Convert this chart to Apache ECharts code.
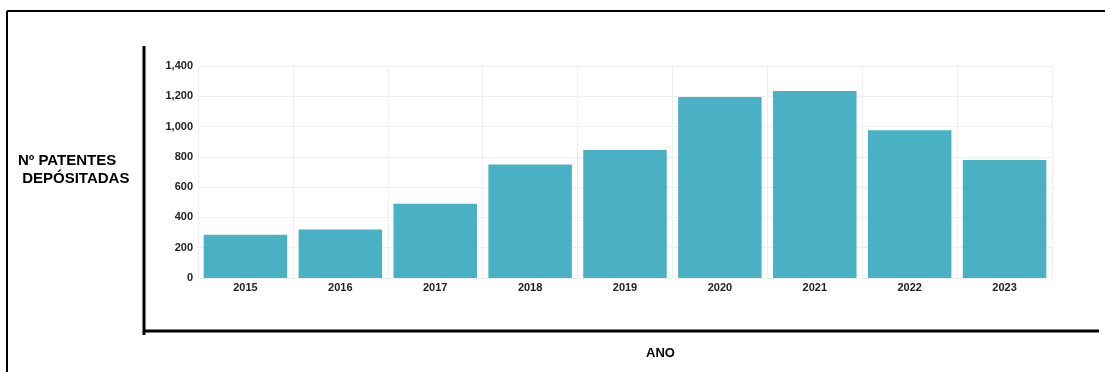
<!DOCTYPE html>
<html>
<head>
<meta charset="utf-8">
<script src="https://cdn.jsdelivr.net/npm/echarts@6/dist/echarts.min.js"></script>
<style>
  html, body { margin: 0; padding: 0; background: #fff; }
  #chart { width: 1105px; height: 372px; }
</style>
</head>
<body>
<div id="chart"></div>
<script>
  // anos e patentes depositadas
  var anos = ['2015', '2016', '2017', '2018', '2019', '2020', '2021', '2022', '2023']
  var patentes = [285, 320, 490, 750, 845, 1195, 1235, 975, 780]

  var chart = echarts.init(document.getElementById('chart'))

  chart.setOption({
    animation: false,
    textStyle: {fontFamily: 'Liberation Sans, Arial, sans-serif'},
    grid: {
      left: 198,
      right: 53,
      top: 66,
      bottom: 94
    },
    xAxis: {
      type: 'category',
      data: anos,
      axisLine: {show: true, lineStyle: {color: '#eeeeee'}},
      axisTick: {show: false},
      splitLine: {show: true, lineStyle: {color: '#eeeeee'}},
      axisLabel: {
        color: '#222',
        fontWeight: 'bold',
        fontSize: 11,
        margin: 4
      }
    },
    yAxis: {
      type: 'value',
      min: 0,
      max: 1400,
      interval: 200,
      axisLine: {show: false},
      axisTick: {show: false},
      splitLine: {lineStyle: {color: '#eeeeee'}},
      axisLabel: {
        color: '#222',
        fontWeight: 'bold',
        fontSize: 11,
        margin: 5,
        formatter: function (v) {
          return v.toLocaleString('en-US')
        }
      }
    },
    series: [
      {
        type: 'bar',
        data: patentes,
        barCategoryGap: '12%',
        itemStyle: {color: '#4ab0c4'}
      }
    ],
    graphic: [
      // moldura externa
      {type: 'line', shape: {x1: 7, y1: 11, x2: 1105, y2: 11}, style: {stroke: '#000', lineWidth: 2}},
      {type: 'line', shape: {x1: 7, y1: 11, x2: 7, y2: 372}, style: {stroke: '#000', lineWidth: 2}},
      // eixos grossos
      {type: 'line', shape: {x1: 144, y1: 46, x2: 144, y2: 335}, style: {stroke: '#000', lineWidth: 3}},
      {type: 'line', shape: {x1: 144, y1: 331, x2: 1099, y2: 331}, style: {stroke: '#000', lineWidth: 3}},
      {
        type: 'text',
        left: 18,
        top: 152,
        style: {
          text: 'Nº PATENTES\n DEPÓSITADAS',
          font: 'bold 15px Liberation Sans, Arial, sans-serif',
          fill: '#000',
          lineHeight: 18
        }
      },
      {
        type: 'text',
        left: 646,
        top: 347,
        style: {
          text: 'ANO',
          font: 'bold 13px Liberation Sans, Arial, sans-serif',
          fill: '#000'
        }
      }
    ]
  })
</script>
</body>
</html>
